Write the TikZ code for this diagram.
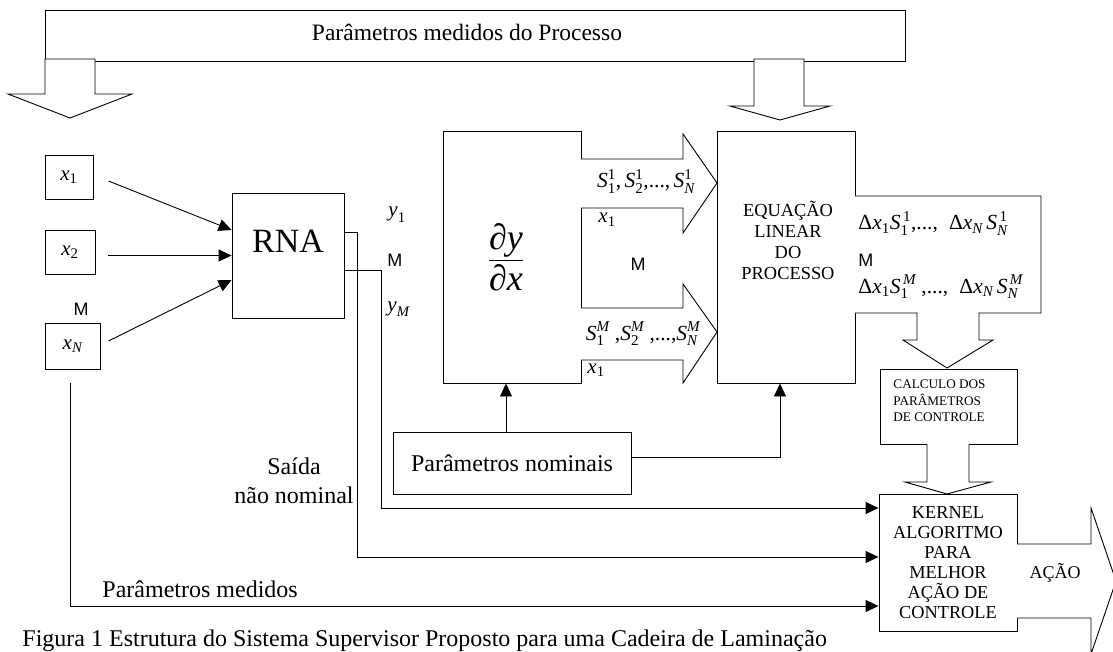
\documentclass[tikz,border=0pt]{standalone}
\usepackage{amsmath}
\usepackage{fontspec}
\setmainfont{Liberation Serif}
\newfontfamily\sansM{Liberation Sans}
\usetikzlibrary{arrows.meta,calc}
\newcommand\fsz[2]{\fontsize{#1}{#2}\selectfont}
\newcommand\vi[1]{\textit{#1}}
\newcommand\vr[1]{\textrm{#1}}
\begin{document}
\begin{tikzpicture}[x=1pt,y=-1pt,line width=0.9pt,
  box/.style={draw,inner sep=0pt},
  arr/.style={-{Triangle[length=13pt,width=12pt]}},
  barrow/.style={draw,fill=white,line join=miter},
  lbl/.style={inner sep=0pt},
  mg/.style={inner sep=0pt,font=\sansM\fsz{18}{20}}]
\useasboundingbox (0,0) rectangle (1113,652);
\clip (0,0) rectangle (1113,652);

% top banner
\node[box,minimum width=860pt,minimum height=51pt] (banner) at (475,35.5) {};
\node[lbl,anchor=base,font=\fsz{23.5}{28}] (bannertxt) at (467,41) {Parâmetros medidos do Processo};
\draw[barrow] (45,59) -- (95,59) -- (95,94) -- (132,94) -- (70,118) -- (8,94) -- (45,94) -- cycle;
\draw[barrow] (754,59) -- (804,59) -- (804,106) -- (830,106) -- (780,120) -- (730,106) -- (754,106) -- cycle;

% inputs
\node[box,minimum width=48pt,minimum height=44pt,font=\fsz{21}{24}] (x1) at (69,177) {$\vi{x}_{\vr{1}}$};
\node[box,minimum width=50pt,minimum height=44pt,font=\fsz{21}{24}] (x2) at (70,252) {$\vi{x}_{\vr{2}}$};
\node[mg,anchor=base] (mx) at (81,315) {M};
\node[box,minimum width=55pt,minimum height=46pt,font=\fsz{21}{24}] (xN) at (72.5,346) {$\vi{x}_{\vi{N}}$};

% RNA
\node[box,minimum width=112pt,minimum height=125pt] (rna) at (288,255.5) {};
\node[lbl,anchor=base,font=\fsz{34}{40}] (rnatxt) at (288,253) {RNA};
\draw[arr] ([xshift=15pt,yshift=-4pt]x1.east) -- ([yshift=25.5pt]rna.west);
\draw[arr] ([xshift=13pt,yshift=-3.5pt]x2.east) -- (rna.west);
\draw[arr] ([xshift=8pt,yshift=5pt]xN.east) -- ([yshift=-24.5pt]rna.west);

\node[lbl,anchor=base west,font=\fsz{21}{24}] (y1) at (388,217) {$\vi{y}_{\vr{1}}$};
\node[mg,anchor=base west] (my) at (387,267) {M};
\node[lbl,anchor=base west,font=\fsz{21}{24}] (yM) at (387,311) {$\vi{y}_{\vi{M}}$};

% dy/dx
\node[box,minimum width=138pt,minimum height=252pt] (dydx) at (512,257) {};
\node[lbl,font=\fsz{36}{40}] (frac) at (506,257) {$\dfrac{\vi{∂y}}{\vi{∂x}}$};

% EQUACAO
\node[box,minimum width=138pt,minimum height=252pt] (eq) at (786,257) {};
\node[lbl,align=center,font=\fsz{18.4}{21}] (eqtxt) at (788,240) {EQUAÇÃO\\LINEAR\\DO\\PROCESSO};

% block arrows dy/dx -> eq
\draw[barrow] (581,159) -- (683,159) -- (683,134) -- (717,183) -- (683,233) -- (683,208) -- (581,208);
\draw[barrow] (581,308) -- (683,308) -- (683,284) -- (717,332) -- (683,383) -- (683,360) -- (581,360);
\node[lbl,anchor=base,font=\fsz{21.5}{24}] (s1) at (646,188) {$\vi{S}_{\vr{1}}^{\vr{1}}\vr{,}\,\vi{S}_{\vr{2}}^{\vr{1}}\vr{,...,}\,\vi{S}_{\vi{N}}^{\vr{1}}$};
\node[lbl,anchor=base west,font=\fsz{21}{24}] (sx1) at (598,223) {$\vi{x}_{\vr{1}}$};
\node[mg,anchor=base] (ms) at (638,270) {M};
\node[lbl,anchor=base,font=\fsz{21.5}{24}] (sM) at (643,340) {$\vi{S}_{\vr{1}}^{\vi{M}}\vr{ ,}\vi{S}_{\vr{2}}^{\vi{M}}\vr{ ,...,}\vi{S}_{\vi{N}}^{\vi{M}}$};
\node[lbl,anchor=base west,font=\fsz{21}{24}] (sx2) at (587,373) {$\vi{x}_{\vr{1}}$};

% output block from eq
\draw[barrow] (855,196) -- (1041,196) -- (1041,313) -- (979,313) -- (979,340) -- (993,340) -- (947,368) -- (903,340) -- (917,340) -- (917,313) -- (855,313);
\node[lbl,anchor=base west,font=\fsz{21.5}{24}] (d1) at (858,230) {$\vr{Δ}\vi{x}_{\vr{1}}\vi{S}_{\vr{1}}^{\,\vr{1}}\vr{,..., }\;\vr{Δ}\vi{x}_{\vi{N}}\,\vi{S}_{\vi{N}}^{\,\vr{1}}$};
\node[mg,anchor=base west] (md) at (858,267) {M};
\node[lbl,anchor=base west,font=\fsz{21.5}{24}] (d2) at (858,293) {$\vr{Δ}\vi{x}_{\vr{1}}\vi{S}_{\vr{1}}^{\,\vi{M}}\vr{ ,..., }\;\vr{Δ}\vi{x}_{\vi{N}}\,\vi{S}_{\vi{N}}^{\,\vi{M}}$};

% calculo
\node[box,minimum width=137pt,minimum height=75pt] (calc) at (948.5,406.5) {};
\node[lbl,anchor=west,align=left,font=\fsz{13.2}{16.5}] (calctxt) at (893,401) {CALCULO DOS\\PARÂMETROS\\DE CONTROLE};
\draw[barrow] (927,444) -- (927,482) -- (905,482) -- (947,494) -- (991,482) -- (969,482) -- (969,444);

% kernel
\node[box,minimum width=138pt,minimum height=137pt,align=center,font=\fsz{18.3}{20}] (kernel) at (948,562.5) {KERNEL\\ALGORITMO\\PARA\\MELHOR\\AÇÃO DE\\CONTROLE};
\draw[barrow] (1017,544) -- (1091,544) -- (1091,508) -- (1116,581) -- (1091,654) -- (1091,618) -- (1017,618);
\node[lbl,anchor=base,font=\fsz{18}{21}] (acao) at (1055,578) {AÇÃO};

% nominais
\node[box,minimum width=238pt,minimum height=62pt,font=\fsz{24}{28}] (nom) at (512,463) {Parâmetros nominais};
\draw[arr] ([xshift=-6pt]nom.north) -- ([xshift=-6pt]dydx.south);
\draw[arr] ([yshift=6pt]nom.east) -| ([xshift=-6pt]eq.south);

% feedback lines to kernel
\draw[arr] ([yshift=23.5pt]rna.east) -- ++(13,0) |- ([yshift=5.5pt]kernel.west);
\draw[arr] ([yshift=-14.5pt]rna.east) -- ++(37,0) |- ([yshift=54.5pt]kernel.west);
\draw[arr] ([xshift=-2.5pt,yshift=-14pt]xN.south) |- ([yshift=-43.5pt]kernel.west);

\node[lbl,align=center,font=\fsz{24}{29}] (saida) at (294,481) {Saída\\não nominal};
\node[lbl,anchor=base west,font=\fsz{24}{28}] (pmed) at (102,597) {Parâmetros medidos};

% caption
\node[lbl,anchor=base west,font=\fsz{24}{28}] (cap) at (22,646) {Figura 1 Estrutura do Sistema Supervisor Proposto para uma Cadeira de Laminação};
\end{tikzpicture}
\end{document}
